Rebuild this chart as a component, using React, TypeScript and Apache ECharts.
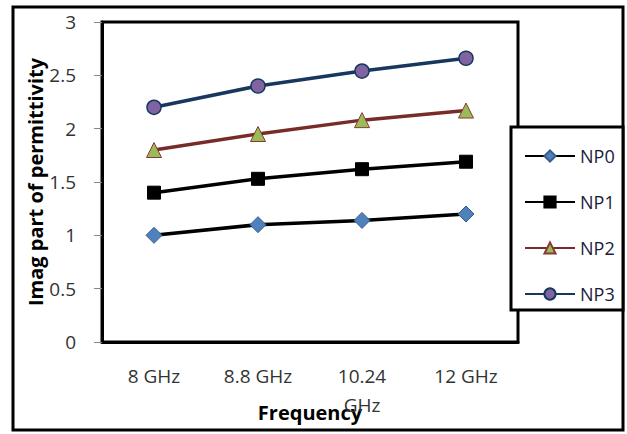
import React, { useEffect, useRef } from "react";
import * as echarts from "echarts";

const categories = ["8 GHz", "8.8 GHz", "10.24\nGHz", "12 GHz"];
const np0 = [1.0, 1.1, 1.14, 1.2];
const np1 = [1.4, 1.53, 1.62, 1.69];
const np2 = [1.8, 1.95, 2.08, 2.17];
const np3 = [2.2, 2.4, 2.54, 2.66];
const yTicks = { min: 0, max: 3, interval: 0.5 };

export default function App() {
  const ref = useRef<HTMLDivElement>(null);
  useEffect(() => {
    if (!ref.current) return;
    const chart = echarts.init(ref.current, null, { renderer: "svg" });
    const font = "'Open Sans', 'Liberation Sans', sans-serif";
    chart.setOption({
      animation: false,
      backgroundColor: "#ffffff",
      textStyle: { fontFamily: font },
      grid: {
        left: 102,
        right: 109,
        top: 22,
        bottom: 92,
        show: true,
        borderColor: "#000",
        borderWidth: 3,
        containLabel: false,
        outerBoundsMode: "none",
      },
      graphic: [
        {
          type: "rect",
          shape: { x: 13, y: 7, width: 610, height: 423 },
          style: { fill: "none", stroke: "#000", lineWidth: 3 },
          z: 0,
        },
        {
          type: "rect",
          shape: { x: 511, y: 127, width: 112, height: 183 },
          style: { fill: "#fff", stroke: "#000", lineWidth: 3 },
          z: 10,
        },
      ],
      legend: {
        orient: "vertical",
        left: 519,
        top: 142,
        itemWidth: 50,
        itemHeight: 14,
        itemGap: 28,
        z: 20,
        textStyle: { fontSize: 18, color: "#1a1a3a", fontFamily: font },
        data: ["NP0", "NP1", "NP2", "NP3"],
      },
      xAxis: {
        type: "category",
        data: categories,
        boundaryGap: true,
        name: "Frequency",
        nameLocation: "middle",
        nameGap: 60,
        nameMoveOverlap: false,
        nameTextStyle: { fontSize: 20, fontWeight: "bold", color: "#000", fontFamily: font, verticalAlign: "top" },
        axisLine: { show: true, lineStyle: { color: "#000", width: 3 } },
        axisTick: { show: false },
        axisLabel: { fontSize: 19, color: "#333", margin: 19, lineHeight: 29, fontFamily: font, interval: 0 },
        splitLine: { show: false },
      },
      yAxis: {
        type: "value",
        min: yTicks.min,
        max: yTicks.max,
        interval: yTicks.interval,
        name: "Imag part of permittivity",
        nameLocation: "middle",
        nameGap: 57,
        nameMoveOverlap: false,
        nameTextStyle: { fontSize: 20, fontWeight: "bold", color: "#000", fontFamily: font },
        axisLine: { show: true, lineStyle: { color: "#000", width: 3 } },
        axisTick: { show: true, inside: false, length: 8, lineStyle: { color: "#888", width: 1 } },
        axisLabel: { fontSize: 19, color: "#333", margin: 26, fontFamily: font },
        splitLine: { show: false },
      },
      series: [
        {
          name: "NP0",
          type: "line",
          data: np0,
          symbol: "diamond",
          symbolSize: 16,
          lineStyle: { color: "#000", width: 3.5 },
          itemStyle: { color: "#4F81BD", borderColor: "#385D8A", borderWidth: 1 },
        },
        {
          name: "NP1",
          type: "line",
          data: np1,
          symbol: "rect",
          symbolSize: 13,
          lineStyle: { color: "#000", width: 3.5 },
          itemStyle: { color: "#000", borderColor: "#000", borderWidth: 1 },
        },
        {
          name: "NP2",
          type: "line",
          data: np2,
          symbol: "triangle",
          symbolSize: 15,
          lineStyle: { color: "#772C2A", width: 3.5 },
          itemStyle: { color: "#9BBB59", borderColor: "#8C3836", borderWidth: 1 },
        },
        {
          name: "NP3",
          type: "line",
          data: np3,
          symbol: "circle",
          symbolSize: 14,
          lineStyle: { color: "#17375E", width: 3.5 },
          itemStyle: { color: "#8064A2", borderColor: "#17375E", borderWidth: 1.5 },
        },
      ],
    });
    return () => chart.dispose();
  }, []);
  return (
    <div
      ref={ref}
      style={{ position: "fixed", left: 0, top: 0, width: 627, height: 434 }}
    />
  );
}
